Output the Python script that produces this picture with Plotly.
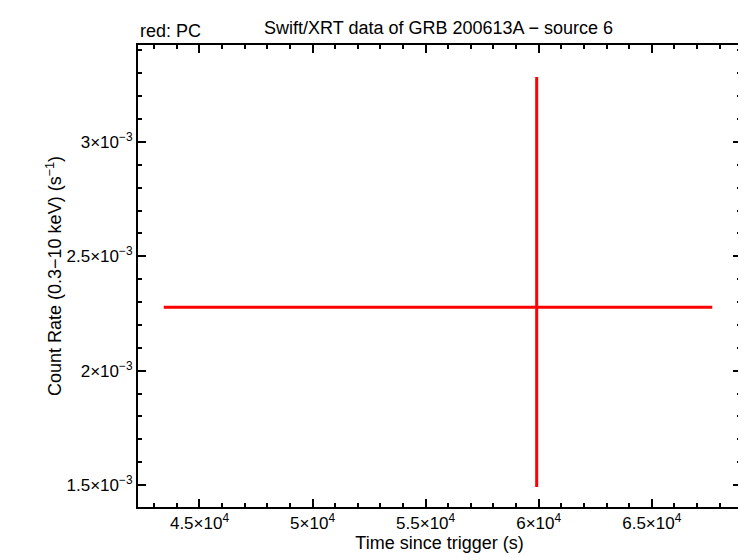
import plotly.graph_objects as go

# one PC-mode bin
time = [59912]
time_lo = [43421]
time_hi = [67675]
rate = [2.277e-3]
rate_err_plus = [1.007e-3]
rate_err_minus = [0.786e-3]

x_ticks = [45000, 50000, 55000, 60000, 65000]
x_labels = ["4.5×10<sup>4</sup>", "5×10<sup>4</sup>", "5.5×10<sup>4</sup>", "6×10<sup>4</sup>", "6.5×10<sup>4</sup>"]
y_ticks = [1.5e-3, 2e-3, 2.5e-3, 3e-3]
y_labels = ["1.5×10<sup>−3</sup>", "2×10<sup>−3</sup>", "2.5×10<sup>−3</sup>", "3×10<sup>−3</sup>"]

fig = go.Figure()
fig.add_trace(go.Scatter(
    x=time, y=rate, mode="markers",
    marker=dict(size=1, color="red"),
    error_x=dict(type="data", symmetric=False,
                 array=[time_hi[0] - time[0]], arrayminus=[time[0] - time_lo[0]],
                 color="red", thickness=3, width=0),
    error_y=dict(type="data", symmetric=False,
                 array=rate_err_plus, arrayminus=rate_err_minus,
                 color="red", thickness=3, width=0),
    showlegend=False,
))

axis_common = dict(showgrid=False, zeroline=False, showline=True, linecolor="black",
                   linewidth=2, mirror="ticks", ticks="inside", ticklen=8,
                   tickwidth=1.5, tickcolor="black", tickfont=dict(size=17, color="black"))

fig.update_xaxes(range=[42281, 68947], tickvals=x_ticks, ticktext=x_labels,
                 title=dict(text="Time since trigger (s)", font=dict(size=18), standoff=0),
                 minor=dict(dtick=1000, ticks="inside", ticklen=4, tickcolor="black"),
                 **axis_common)
fig.update_yaxes(range=[1.404e-3, 3.424e-3], tickvals=y_ticks, ticktext=y_labels,
                 title=dict(text="Count Rate (0.3−10 keV) (s<sup>−1</sup>)", font=dict(size=18), standoff=0),
                 minor=dict(dtick=1e-4, ticks="inside", ticklen=4, tickcolor="black"),
                 **axis_common)

fig.update_layout(
    width=736, height=548,
    margin=dict(l=130, r=1, t=37, b=49),
    plot_bgcolor="white", paper_bgcolor="white",
    font=dict(family="Liberation Sans, Arial, sans-serif", color="black"),
    title=dict(text="Swift/XRT data of GRB 200613A − source 6", x=0.585, xanchor="center",
               y=0.975, font=dict(size=18)),
    annotations=[dict(text="red: PC", xref="paper", yref="paper", x=0, y=1.005,
                      xanchor="left", yanchor="bottom", showarrow=False, font=dict(size=18))],
)

fig.write_html("out.html")
